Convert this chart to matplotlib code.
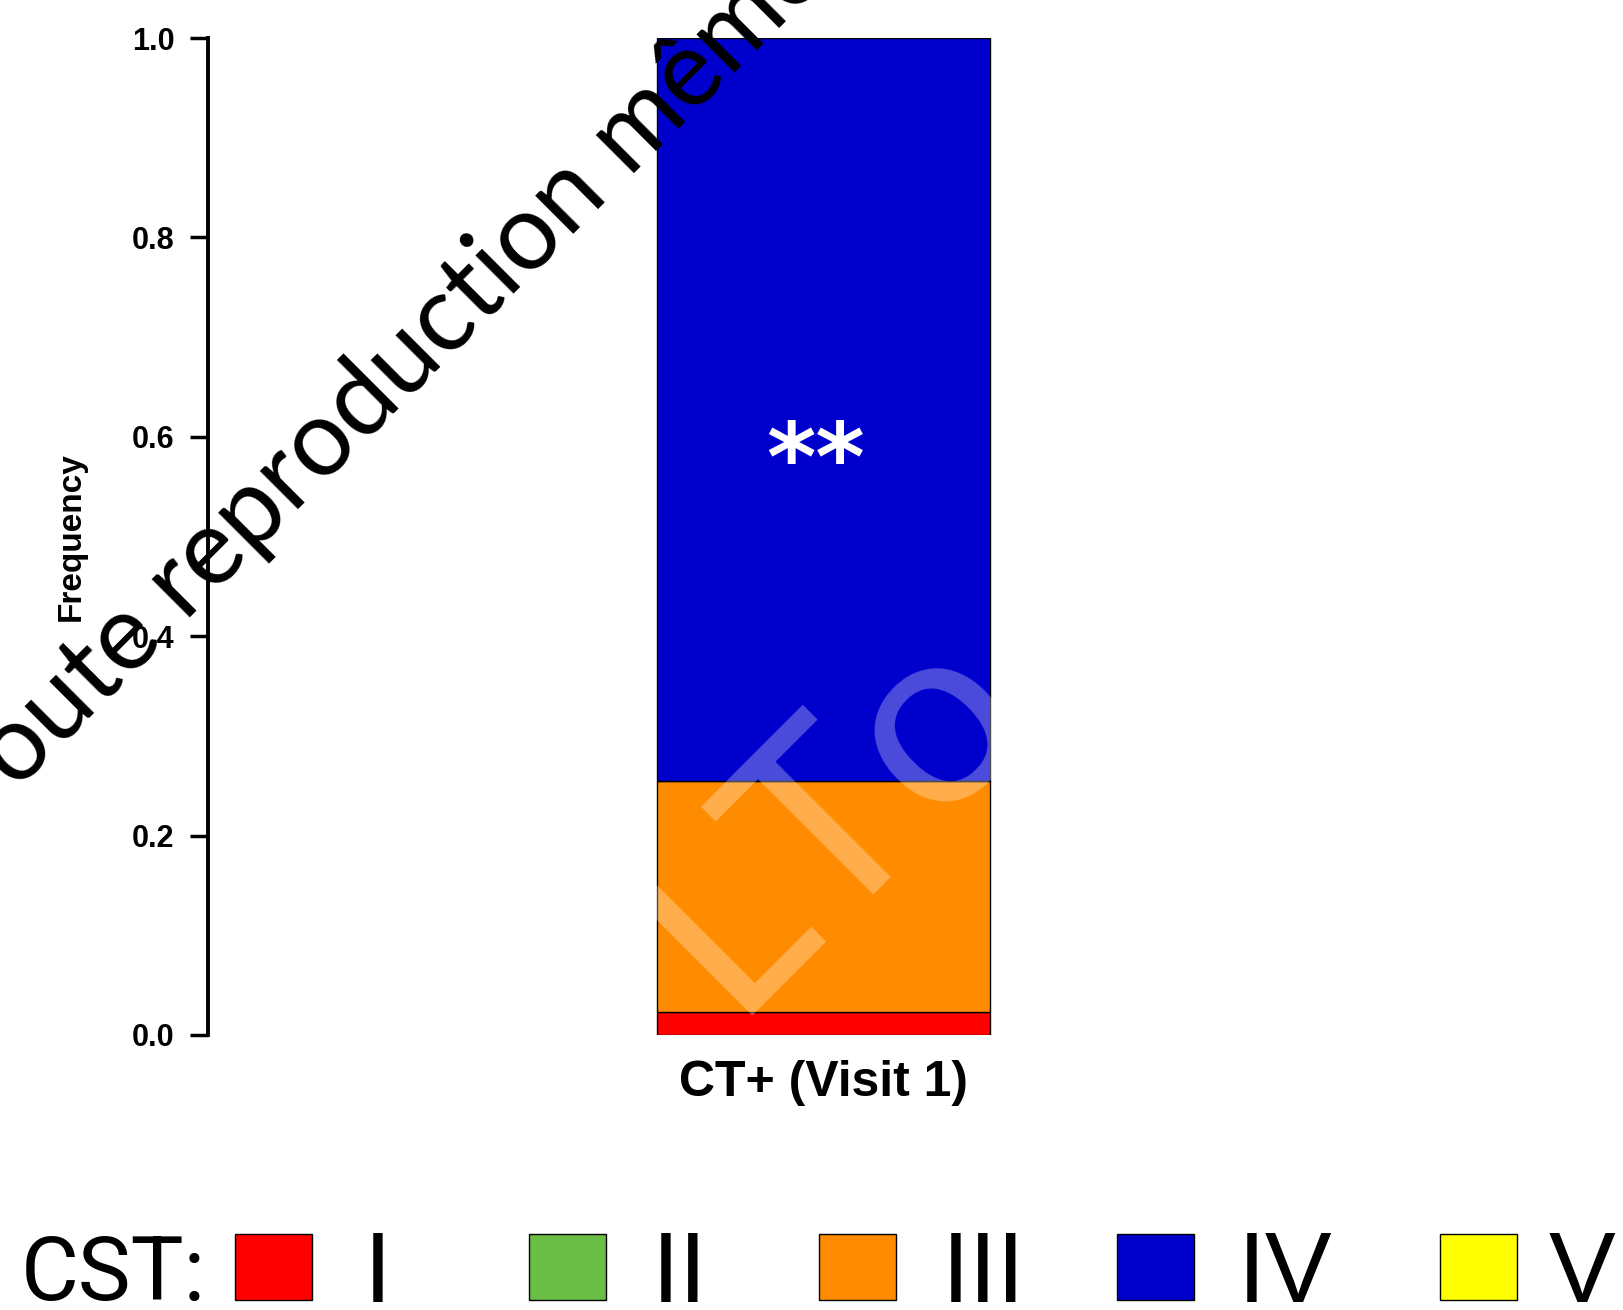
import matplotlib
matplotlib.use("Agg")
import matplotlib.pyplot as plt
from matplotlib.patches import Patch

# ---- data -------------------------------------------------------------
group = ["CT+ (Visit 1)"]
cst_types = ["I", "II", "III", "IV", "V"]
cst_colors = ["#FF0000", "#6ABD45", "#FF8C00", "#0000CC", "#FFFF00"]
# relative frequency of each community state type (II and V absent)
cst_freq = [0.023, 0.0, 0.232, 0.745, 0.0]
yticks = [0.0, 0.2, 0.4, 0.6, 0.8, 1.0]
ytick_labels = ["0.0", "0.2", "0.4", "0.6", "0.8", "1.0"]
signif_label = "**"
signif_y = 0.547
watermark_text = "Toute reproduction même"
watermark_logo = "LTo"

# ---- figure -----------------------------------------------------------
W, H = 1624, 1310
fig = plt.figure(figsize=(W / 100, H / 100), dpi=100)
ax = fig.add_axes([208 / W, 1 - 1035 / H, 1 - 208 / W, 997 / H])

bottom = 0.0
for f, c in zip(cst_freq, cst_colors):
    if f > 0:
        ax.bar(0, f, width=1.0, bottom=bottom, color=c, edgecolor="black",
               linewidth=1.0, zorder=2)
    bottom += f

ax.text(-0.025, signif_y, signif_label, color="white", fontsize=68,
        fontweight="bold", ha="center", va="baseline",
        family="DejaVu Sans", zorder=3)

ax.set_xlim(-1.848, 2.404)
ax.set_ylim(0, 1)
for s in ("top", "right", "bottom"):
    ax.spines[s].set_visible(False)
ax.spines["left"].set_linewidth(2.8)

ax.set_yticks(yticks, ytick_labels)
ax.tick_params(axis="y", length=13, width=2.5, pad=11, labelsize=22)
for lab in ax.get_yticklabels():
    lab.set_fontweight("bold")
    lab.set_family("Liberation Sans")

ax.set_xticks([0], group)
ax.tick_params(axis="x", length=0, pad=18, labelsize=36)
for lab in ax.get_xticklabels():
    lab.set_fontweight("bold")
    lab.set_family("Liberation Sans")

ax.set_ylabel("Frequency", fontsize=24, fontweight="bold",
              family="Liberation Sans")
ax.yaxis.set_label_coords(-0.0855, 0.5)

# ---- legend: one entry per CST, spread across the bottom ----------------
legend_x = [235, 529, 819, 1117, 1440]
legend_textpad = [0.52, 0.46, 0.46, 0.44, 0.32]
for x, pad, c, lab in zip(legend_x, legend_textpad, cst_colors, cst_types):
    fig.legend([Patch(facecolor=c, edgecolor="black", linewidth=1.0)], [lab],
               loc="center left", bbox_to_anchor=(x / W, 0.026),
               frameon=False, prop={"family": "Liberation Sans", "size": 72},
               handlelength=0.77, handleheight=0.64, handletextpad=pad,
               borderpad=0, borderaxespad=0)
fig.text(21 / W, 10 / H, "CST:", fontsize=64, family="Roboto",
         ha="left", va="baseline")

# ---- overlaid diagonal marks -------------------------------------------
fig.text(380 / W, 1 - 385 / H, watermark_text, rotation=45,
         rotation_mode="anchor", ha="center", va="center",
         fontsize=76, family="Lato", color="black", zorder=5)
fig.text(729 / W, 1 - 1016 / H, watermark_logo, rotation=45,
         rotation_mode="anchor", ha="left", va="baseline",
         fontsize=185, family="Lato", color="white", alpha=0.3, zorder=5)

fig.savefig("out.png", dpi=100)
